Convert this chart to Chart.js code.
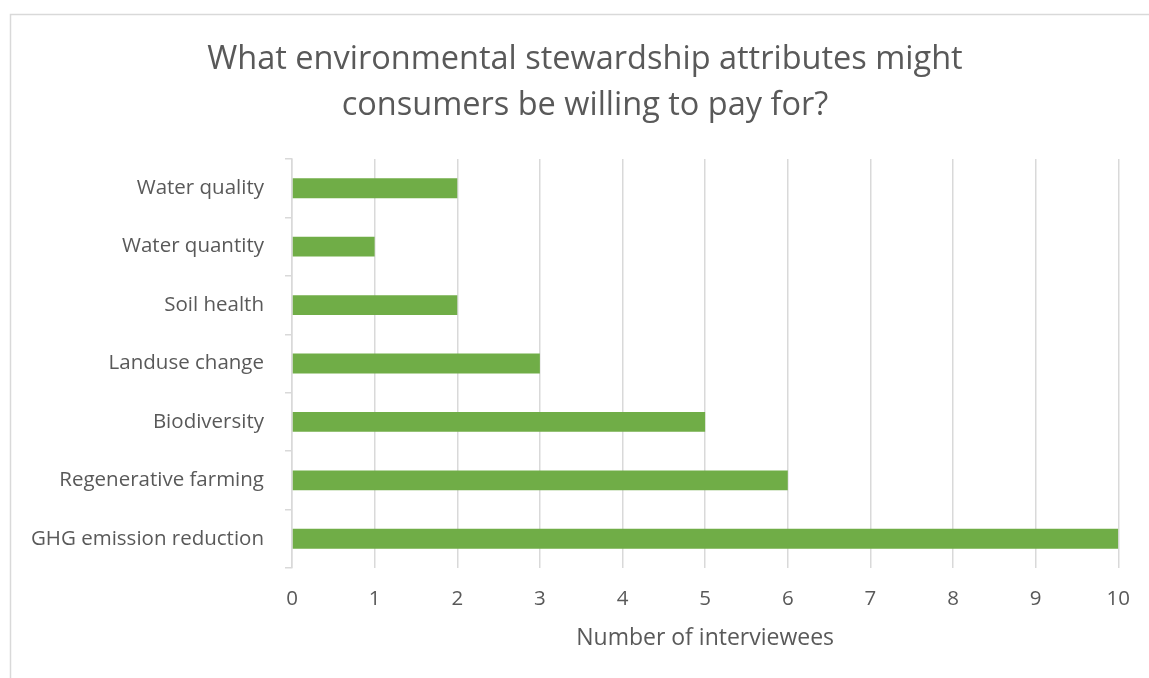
<!DOCTYPE html>
<html>
<head>
<meta charset="utf-8">
<script src="https://cdn.jsdelivr.net/npm/chart.js@4.4.1/dist/chart.umd.min.js"></script>
<style>
  html, body { margin: 0; padding: 0; background: #fff; }
  #wrap { position: relative; width: 1149px; height: 678px; }
</style>
</head>
<body>
<div id="wrap"><canvas id="chart" width="1149" height="678"></canvas></div>
<script>
const categories = [
  "Water quality",
  "Water quantity",
  "Soil health",
  "Landuse change",
  "Biodiversity",
  "Regenerative farming",
  "GHG emission reduction"
];
const interviewees = [2, 1, 2, 3, 5, 6, 10];
const xTicks = [0, 1, 2, 3, 4, 5, 6, 7, 8, 9, 10];
const titleLines = ["What environmental stewardship attributes might", "consumers be willing to pay for?"];

const FONT = "'Open Sans', Lato, sans-serif";
const GREY = "#595959";

// light frame around the chart, like the office export
const framePlugin = {
  id: "frame",
  beforeDraw(chart) {
    const ctx = chart.ctx;
    ctx.save();
    ctx.strokeStyle = "#d9d9d9";
    ctx.lineWidth = 1.5;
    ctx.strokeRect(10.5, 14.5, chart.width + 20, chart.height + 20);
    ctx.restore();
  }
};

// title centred on the frame, not on the canvas
const titlePlugin = {
  id: "frameTitle",
  afterDraw(chart) {
    const ctx = chart.ctx;
    ctx.save();
    ctx.fillStyle = GREY;
    ctx.font = "32.5px " + FONT;
    ctx.textAlign = "center";
    ctx.textBaseline = "middle";
    ctx.fillText(titleLines[0], 585, 59.5);
    ctx.fillText(titleLines[1], 585, 105.5);
    ctx.restore();
  }
};

new Chart(document.getElementById("chart"), {
  type: "bar",
  data: {
    labels: categories,
    datasets: [{
      data: interviewees,
      backgroundColor: "#70ad47",
      borderWidth: 0,
      categoryPercentage: 1,
      barPercentage: 0.34
    }]
  },
  plugins: [framePlugin, titlePlugin],
  options: {
    indexAxis: "y",
    responsive: false,
    animation: false,
    layout: { padding: { left: 0, right: 28, top: 159, bottom: 0 } },
    plugins: {
      legend: { display: false },
      tooltip: { enabled: false },
      title: { display: false }
    },
    scales: {
      x: {
        min: 0,
        max: 10,
        afterFit(scale) { scale.height = 110; },
        afterBuildTicks(scale) { scale.ticks = xTicks.map(v => ({ value: v })); },
        grid: { color: "#d9d9d9", lineWidth: 1.5, drawTicks: false },
        border: { display: false },
        ticks: {
          color: GREY,
          padding: 19,
          font: { family: FONT, size: 20.5 }
        },
        title: {
          display: true,
          text: "Number of interviewees",
          color: GREY,
          font: { family: FONT, size: 23, lineHeight: 1.2 },
          padding: { top: 0, bottom: 26 }
        }
      },
      y: {
        afterFit(scale) { scale.width = 292; },
        grid: { drawOnChartArea: false, drawTicks: true, tickLength: 7, offset: true, color: "#d9d9d9", lineWidth: 1.5 },
        border: { display: true, color: "#d9d9d9", width: 1.5 },
        ticks: {
          color: GREY,
          padding: 21,
          font: { family: FONT, size: 20.5 }
        }
      }
    }
  }
});
</script>
</body>
</html>
